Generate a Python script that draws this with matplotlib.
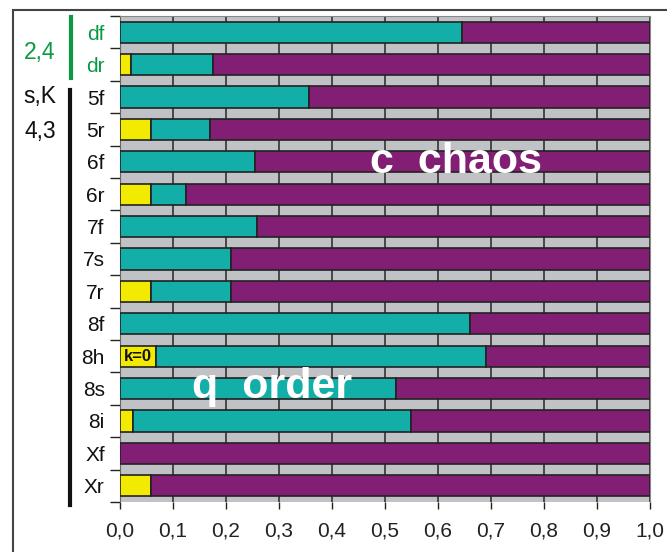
import numpy as np
import matplotlib.pyplot as plt
from matplotlib.patches import Rectangle
from matplotlib.lines import Line2D

plt.rcParams['font.family'] = ['Liberation Sans', 'DejaVu Sans']

# rows from top to bottom
labels = ['df', 'dr', '5f', '5r', '6f', '6r', '7f', '7s', '7r',
          '8f', '8h', '8s', '8i', 'Xf', 'Xr']
yellow = [0.0, 0.021, 0.0, 0.058, 0.0, 0.058, 0.0, 0.0, 0.058,
          0.0, 0.068, 0.0, 0.025, 0.0, 0.058]
teal = [0.645, 0.154, 0.357, 0.112, 0.255, 0.067, 0.258, 0.209, 0.151,
        0.66, 0.622, 0.52, 0.524, 0.0, 0.0]
purple = [1 - a - b for a, b in zip(yellow, teal)]
xticks = np.arange(0, 1.01, 0.1)
xlabels = ['%.1f' % v for v in xticks]
xlabels = [s.replace('.', ',') for s in xlabels]

c_yel = '#F2EA00'
c_teal = '#14AEA8'
c_pur = '#821F74'
c_gray = '#C1C2C6'
c_green = '#0A9A45'

fig = plt.figure(figsize=(6.67, 5.52), dpi=100)
ax = fig.add_axes([120/667, 1 - 502/552, 530/667, 486/552])
ax.set_facecolor(c_gray)

y = np.arange(len(labels))
h = 0.65
ax.barh(y, yellow, height=h, color=c_yel, edgecolor='#222222', linewidth=1.2, zorder=3)
ax.barh(y, teal, left=yellow, height=h, color=c_teal, edgecolor='#222222', linewidth=1.2, zorder=3)
left2 = [a + b for a, b in zip(yellow, teal)]
ax.barh(y, purple, left=left2, height=h, color=c_pur, edgecolor='#222222', linewidth=1.2, zorder=3)

ax.set_xlim(0, 1)
ax.set_ylim(len(labels) - 0.5, -0.5)

ax.set_xticks(xticks)
ax.set_xticklabels(xlabels, fontsize=15, color='#222222')
ax.tick_params(axis='x', direction='out', length=5, width=1, pad=9, colors='#222222')
ax.xaxis.grid(True, color='#333333', linewidth=1.2, zorder=0)
ax.set_axisbelow(True)

# y tick marks between rows, labels at row centres
ax.set_yticks(np.arange(-0.5, len(labels), 1.0))
ax.set_yticklabels([])
ax.tick_params(axis='y', which='major', direction='out', length=7, width=1, colors='#222222')
ax.set_yticks(y, minor=True)
ax.set_yticklabels(labels, minor=True, fontsize=15)
ax.tick_params(axis='y', which='minor', length=0, pad=11)
for i, t in enumerate(ax.get_yticklabels(minor=True)):
    t.set_color(c_green if i < 2 else '#111111')

for s in ['top', 'right']:
    ax.spines[s].set_color('#888888')
ax.spines['left'].set_color('#666666')
ax.spines['bottom'].set_visible(False)

# annotations inside the bars
ax.text(0.634, 4, 'c  chaos', color='white', fontsize=31, fontweight='bold',
        ha='center', va='center', zorder=5)
ax.text(0.287, 10.95, 'q  order', color='white', fontsize=31, fontweight='bold',
        ha='center', va='center', zorder=5)
ax.text(0.034, 10, 'k=0', color='#111111', fontsize=12, fontweight='bold',
        ha='center', va='center', zorder=5)

# left side group labels and bars
fig.text(40/667, 1 - 52/552, '2,4', color=c_green, fontsize=16.5, ha='center', va='center')
fig.text(40/667, 1 - 97/552, 's,K', color='#111111', fontsize=16.5, ha='center', va='center')
fig.text(40/667, 1 - 131/552, '4,3', color='#111111', fontsize=16.5, ha='center', va='center')
fig.add_artist(Line2D([71/667, 71/667], [1 - 17/552, 1 - 78/552], color=c_green, linewidth=3))
fig.add_artist(Line2D([70/667, 70/667], [1 - 90/552, 1 - 505/552], color='#111111', linewidth=3))

# outer frame
fig.add_artist(Rectangle((13/667, -0.05), 1.0, 1 - 10/552 + 0.05, fill=False,
                         edgecolor='#444444', linewidth=1.5, transform=fig.transFigure))

fig.savefig('out.png', dpi=100)
